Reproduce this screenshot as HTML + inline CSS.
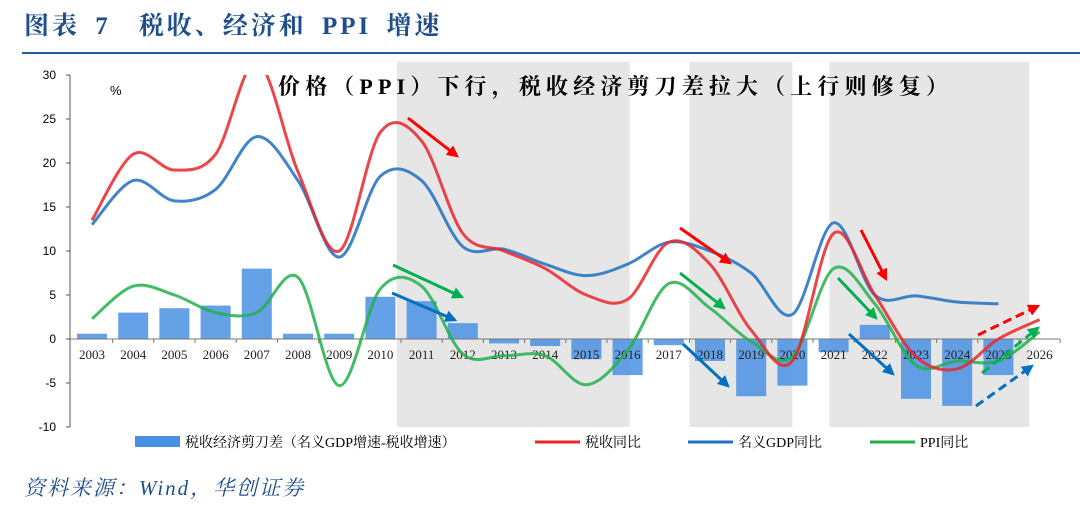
<!DOCTYPE html>
<html><head><meta charset="utf-8"><style>
body{margin:0;background:#fff;width:1080px;height:515px;overflow:hidden;font-family:"Liberation Serif","Noto Serif CJK SC",serif}
#title{position:absolute;left:24px;top:6px;font-size:25px;font-weight:bold;color:#1f4e8c;letter-spacing:3px;word-spacing:6px}
#rule{position:absolute;left:22px;top:52px;width:1058px;height:2px;background:#1f5fa0}
#src{position:absolute;left:24px;top:472px;font-size:21px;font-style:italic;color:#1f4e8c;letter-spacing:2px}
svg{position:absolute;left:0;top:0}
</style></head><body>
<div id="title">图表 7　税收、经济和 PPI 增速</div>
<div id="rule"></div>
<svg id="c" width="1080" height="515"></svg>
<div id="src">资料来源：Wind，华创证券</div>
<script>
const years=['2003','2004','2005','2006','2007','2008','2009','2010','2011','2012','2013','2014','2015','2016','2017','2018','2019','2020','2021','2022','2023','2024','2025','2026'];
const gap=[0.6,3,3.5,3.8,8,0.6,0.6,4.8,4.3,1.8,-0.5,-0.8,-2.3,-4.1,-0.7,-2.5,-6.5,-5.3,-1.5,1.6,-6.8,-7.6,-4.1];
const tax=[13.5,21,19.2,21,31.5,19,10,23.5,22.5,12,10,8,5,4.5,11,8.5,1,-2.5,12,5,-2,-3.4,0,2.2];
const gdp=[13,18,15.7,17,23,18,9.3,18.5,18,10.5,10.2,8.5,7.2,8.5,11,10,7.5,2.8,13.2,5,4.9,4.2,4];
const ppi=[2.3,6,5,3,3,7,-5.3,5.7,6,-1.7,-1.9,-1.9,-5.2,-1.3,6.3,3.5,-0.3,-2,8,4,-3,-2.5,-2.5,0.8];
const yTicks=[30,25,20,15,10,5,0,-5,-10];
const shades=[[2010.4,2016.05],[2017.5,2020],[2020.9,2025.75]];
const NS='http://www.w3.org/2000/svg',svg=document.getElementById('c');
const X=i=>92+i*41.2, Y=v=>339-v*8.8;
function mk(t,a,p){const e=document.createElementNS(NS,t);for(const k in a)e.setAttribute(k,a[k]);(p||svg).appendChild(e);return e;}
const defs=mk('defs',{});
const cp=mk('clipPath',{id:'clip'},defs);mk('rect',{x:70,y:75,width:1010,height:352},cp);
const mkr=(id,c)=>{const m=mk('marker',{id:id,viewBox:'0 0 10 10',refX:8,refY:5,markerWidth:4,markerHeight:4,orient:'auto'},defs);mk('path',{d:'M0,0L10,5L0,10z',fill:c},m);};
mkr('mr','#f00');mkr('mg','#00b050');mkr('mb','#0070c0');
shades.forEach(s=>{const r=mk('rect',{x:X(s[0]-2003),y:62,width:X(s[1]-2003)-X(s[0]-2003),height:365,fill:'#e6e6e6'});

});
mk('line',{x1:70,y1:75,x2:70,y2:427,stroke:'#555'});
yTicks.forEach(v=>{mk('line',{x1:66,x2:70,y1:Y(v),y2:Y(v),stroke:'#555'});
const t=mk('text',{x:56,y:Y(v)+4,'text-anchor':'end','font-size':12,fill:'#000','font-family':'Liberation Sans'});t.textContent=v;

});
const pc=mk('text',{x:110,y:95,'font-size':13,'font-family':'Liberation Sans'});pc.textContent='%';
gap.forEach((v,i)=>{const r=mk('rect',{x:X(i)-15,width:30,y:Math.min(Y(v),Y(0)),height:Math.abs(Y(v)-Y(0)),fill:'#4a90e2',opacity:0.85});

});
mk('line',{x1:70,x2:1060,y1:Y(0),y2:Y(0),stroke:'#777'});
years.forEach((y,i)=>{mk('line',{x1:X(i)+20.6,x2:X(i)+20.6,y1:Y(0),y2:Y(0)+4,stroke:'#777'});
const t=mk('text',{x:X(i),y:Y(0)+20,'text-anchor':'middle','font-size':13,fill:'#222'});t.textContent=y;

});
function spline(vals){const p=vals.map((v,i)=>[X(i),Y(v)]);let d='M'+p[0];
for(let i=0;i<p.length-1;i++){const p0=p[i-1]||p[i],p1=p[i],p2=p[i+1],p3=p[i+2]||p2;const k=1/6;
d+='C'+(p1[0]+(p2[0]-p0[0])*k)+','+(p1[1]+(p2[1]-p0[1])*k)+' '+(p2[0]-(p3[0]-p1[0])*k)+','+(p2[1]-(p3[1]-p1[1])*k)+' '+p2[0]+','+p2[1];}return d;}
[[gdp,'#1f6fbf','gdp-line'],[ppi,'#22b04b','ppi-line'],[tax,'#e8272b','tax-line']].forEach(s=>{
const p=mk('path',{d:spline(s[0]),fill:'none',stroke:s[1],'stroke-width':3,'clip-path':'url(#clip)',opacity:0.85});

});
const an=mk('text',{x:278,y:94,'font-size':22,'font-weight':'bold',fill:'#000',textLength:670,lengthAdjust:'spacing'});an.textContent='价格（PPI）下行，税收经济剪刀差拉大（上行则修复）';


const arrows=[[408,118,457,156,'r',0],[393,265,462,297,'g',0],[392,293,455,320,'b',0],[680,228,730,263,'r',0],[680,273,724,308,'g',0],[683,344,728,386,'b',0],[861,230,886,279,'r',0],[838,278,876,318,'g',0],[849,334,893,374,'b',0],[978,335,1038,306,'r',1],[982,373,1038,328,'g',1],[976,406,1032,366,'b',1]];
const cols={r:'#f00',g:'#00b050',b:'#0070c0'};
arrows.forEach(a=>{const l=mk('line',{x1:a[0],y1:a[1],x2:a[2],y2:a[3],stroke:cols[a[4]],'stroke-width':3,'marker-end':'url(#m'+a[4]+')','stroke-dasharray':a[5]?'9,5':'none'});

});
const lg=[[135,'bar','#4a90e2','税收经济剪刀差（名义GDP增速-税收增速）'],[535,'line','#e8272b','税收同比'],[688,'line','#1f6fbf','名义GDP同比'],[870,'line','#22b04b','PPI同比']];
lg.forEach(l=>{if(l[1]=='bar')mk('rect',{x:l[0],y:436,width:45,height:11,fill:'#4a90e2'});else mk('line',{x1:l[0],x2:l[0]+45,y1:442,y2:442,stroke:l[2],'stroke-width':3});
const t=mk('text',{x:l[0]+50,y:447,'font-size':14});t.textContent=l[3];

});
</script>
</body></html>
